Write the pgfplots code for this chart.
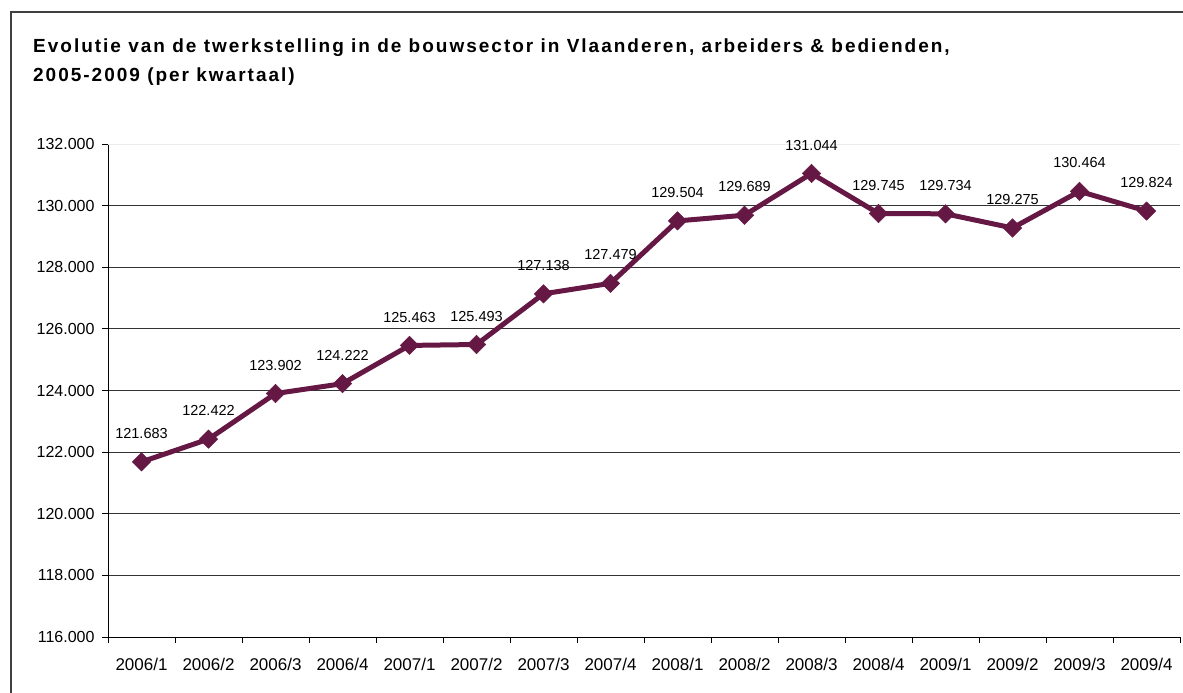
\documentclass[border=0pt]{standalone}
\usepackage{fontspec}
\setmainfont{Liberation Sans}
\usepackage{pgfplots}
\usepackage{pgfplotstable}
\pgfplotsset{compat=1.18}
\definecolor{serie}{RGB}{102,24,68}
\pgfplotstableread{
x y lab
0 121683 121.683
1 122422 122.422
2 123902 123.902
3 124222 124.222
4 125463 125.463
5 125493 125.493
6 127138 127.138
7 127479 127.479
8 129504 129.504
9 129689 129.689
10 131044 131.044
11 129745 129.745
12 129734 129.734
13 129275 129.275
14 130464 130.464
15 129824 129.824
}\datatable
\begin{document}
\begin{tikzpicture}
\useasboundingbox (0pt,0pt) rectangle (1183pt,-693pt);
\draw[line width=2pt, black!75] (11pt,-693pt) -- (11pt,-12pt) -- (1183pt,-12pt);
\node[anchor=base west, inner sep=0pt, font=\bfseries\fontsize{19}{21}\selectfont\addfontfeature{LetterSpace=10.5}] at (33pt,-52.5pt) {Evolutie van de twerkstelling in de bouwsector in Vlaanderen, arbeiders \& bedienden,};
\node[anchor=base west, inner sep=0pt, font=\bfseries\fontsize{19}{21}\selectfont\addfontfeature{LetterSpace=10.5}] at (33pt,-81.5pt) {2005-2009 (per kwartaal)};
\begin{axis}[
  at={(108pt,-637pt)}, anchor=south west, scale only axis,
  width=1072pt, height=493pt,
  xmin=-0.5, xmax=15.5, ymin=116000, ymax=132000,
  scaled y ticks=false,
  axis lines*=left,
  axis line style={black, line width=1pt},
  xtick={-0.5,0.5,...,15.5},
  x tick label as interval,
  xticklabels={2006/1,2006/2,2006/3,2006/4,2007/1,2007/2,2007/3,2007/4,2008/1,2008/2,2008/3,2008/4,2009/1,2009/2,2009/3,2009/4},
  ytick={116000,118000,120000,122000,124000,126000,128000,130000},
  yticklabels={116.000,118.000,120.000,122.000,124.000,126.000,128.000,130.000},
  extra y ticks={132000},
  extra y tick labels={132.000},
  extra y tick style={grid style={black!8, line width=1pt}},
  ymajorgrids,
  grid style={black!80, line width=0.8pt},
  tick align=outside,
  major tick length=6pt,
  tick style={black, line width=1pt},
  /pgf/number format/assume math mode=true,
  xticklabel style={font=\fontsize{17}{20}\selectfont, yshift=-12pt},
  yticklabel style={font=\fontsize{16}{19}\selectfont, xshift=-4pt},
  clip=false,
]
\addplot[serie, line width=5pt, mark=square*, mark size=6.5pt,
  mark options={rotate=45, solid, fill=serie, line width=0.5pt},
  point meta=explicit symbolic,
  nodes near coords,
  every node near coord/.append style={font=\fontsize{14.5}{17}\selectfont, black, anchor=south, inner sep=0pt, yshift=23pt}
] table[x=x, y=y, meta=lab] {\datatable};
\end{axis}
\end{tikzpicture}
\end{document}
